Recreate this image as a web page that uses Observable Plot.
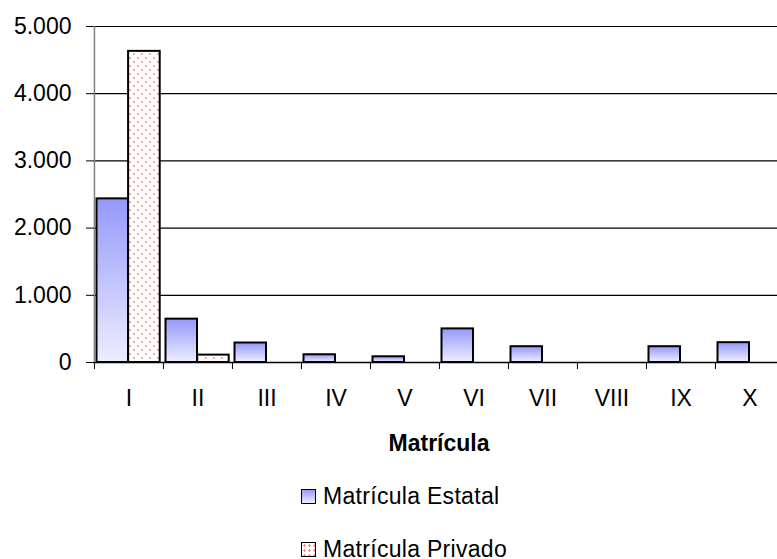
<!DOCTYPE html>
<html>
<head>
<meta charset="utf-8">
<script src="https://cdn.jsdelivr.net/npm/d3@7"></script>
<script src="https://cdn.jsdelivr.net/npm/@observablehq/plot@0.6"></script>
<style>
  html, body { margin: 0; padding: 0; background: #fff; width: 777px; height: 559px; overflow: hidden; }
  body { font-family: "Liberation Sans", Arial, sans-serif; }
  #legend { padding-left: 301px; margin-top: 10px; font-size: 23px; color: #000; letter-spacing: 0.3px; }
  .row { height: 53px; display: flex; align-items: center; }
  .sw { width: 13px; height: 13px; border: 1.6px solid #000; margin-right: 7px; box-sizing: content-box; }
  .sw.e { background: linear-gradient(#9999ff, #eeeeff); }
  .sw.p { background-color: #fff; background-image: radial-gradient(circle, #ff8888 35%, transparent 40%); background-size: 5px 5px; }
</style>
</head>
<body>
<div id="chart"></div>
<div id="legend"></div>
<script>
const categories = ["I", "II", "III", "IV", "V", "VI", "VII", "VIII", "IX", "X"];
const estatal = [2435, 645, 290, 115, 85, 500, 235, 0, 235, 295];
const privado = [4630, 110, 0, 0, 0, 0, 0, 0, 0, 0];
const seriesNames = ["Matrícula Estatal", "Matrícula Privado"];
const yTicks = [0, 1000, 2000, 3000, 4000, 5000];
const xTitle = "Matrícula";

const dataE = categories.map((c, i) => ({cat: c, value: estatal[i]})).filter(d => d.value > 0);
const dataP = categories.map((c, i) => ({cat: c, value: privado[i]})).filter(d => d.value > 0);

const W = 777, H = 460, ML = 93, MT = 26, Y0 = 362, XR = 784;
const bw = (XR - ML) / categories.length;
const tickLen = 7 * 5000 / (Y0 - MT);
const font = "'Liberation Sans', Arial, sans-serif";

const fmt = d => d3.format(",")(d).replace(/,/g, ".");

const chart = Plot.plot({
  width: W,
  height: H,
  marginLeft: ML,
  marginRight: W - XR,
  marginTop: MT,
  marginBottom: H - Y0,
  style: {fontFamily: font, fontSize: "23px", color: "#000", background: "#fff"},
  x: {domain: categories, range: [ML, XR], padding: 0},
  y: {domain: [0, 5000], range: [Y0, MT]},
  marks: [
    Plot.ruleY(yTicks.filter(d => d > 0), {stroke: "#000", strokeWidth: 1.2}),
    Plot.axisY(yTicks, {tickSize: 7, tickPadding: 15, tickFormat: fmt, fontSize: 23, stroke: "#000", label: null}),
    Plot.axisX({tickSize: 0, tickPadding: 27, fontSize: 23, label: null}),
    Plot.barY(dataE, {x: "cat", y: "value", insetLeft: 2.5, insetRight: 35, fill: "url(#gradE)", stroke: "#000", strokeWidth: 2}),
    Plot.barY(dataP, {x: "cat", y: "value", insetLeft: 34.1, insetRight: 3.3, fill: "url(#patP)", stroke: "#000", strokeWidth: 2}),
    Plot.ruleY([0], {stroke: "#000", strokeWidth: 1.5}),
    Plot.ruleX([categories[0]], {x: d => d, dx: -bw / 2, y1: 0, y2: 5000, stroke: "#808080", strokeWidth: 1.5}),
    Plot.ruleX(categories, {x: d => d, dx: -bw / 2, y1: 0, y2: -tickLen, stroke: "#000", strokeWidth: 1}),
    Plot.text([xTitle], {frameAnchor: "bottom", lineAnchor: "middle", dy: 81, fontWeight: "bold", fontSize: 23, fill: "#000"})
  ]
});

// paint definitions (gradient / dot pattern) used by the bars
const svg = d3.select(chart.tagName.toLowerCase() === "svg" ? chart : chart.querySelector("svg"));
const defs = svg.insert("defs", ":first-child");
const g = defs.append("linearGradient").attr("id", "gradE").attr("x1", 0).attr("y1", 0).attr("x2", 0).attr("y2", 1);
g.append("stop").attr("offset", "0%").attr("stop-color", "#9498fa");
g.append("stop").attr("offset", "100%").attr("stop-color", "#eeeeff");
const p = defs.append("pattern").attr("id", "patP").attr("patternUnits", "userSpaceOnUse").attr("width", 8).attr("height", 8);
p.append("rect").attr("width", 8).attr("height", 8).attr("fill", "#fff");
p.append("circle").attr("cx", 2).attr("cy", 2).attr("r", 0.9).attr("fill", "#ff7f7f");
p.append("circle").attr("cx", 6).attr("cy", 6).attr("r", 0.9).attr("fill", "#ff7f7f");

document.getElementById("chart").appendChild(chart);

const legend = document.getElementById("legend");
seriesNames.forEach((name, i) => {
  const row = document.createElement("div");
  row.className = "row";
  const sw = document.createElement("span");
  sw.className = "sw " + (i === 0 ? "e" : "p");
  const label = document.createElement("span");
  label.textContent = name;
  row.appendChild(sw);
  row.appendChild(label);
  legend.appendChild(row);
});
</script>
</body>
</html>
